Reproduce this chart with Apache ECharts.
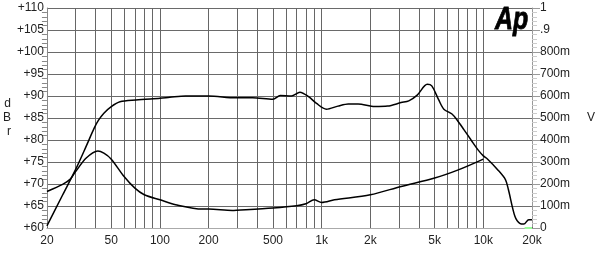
<!DOCTYPE html>
<html><head><meta charset="utf-8">
<script src="https://cdn.jsdelivr.net/npm/echarts@6/dist/echarts.min.js"></script>
<style>html,body{margin:0;padding:0;background:#fff}#c{width:600px;height:254px}</style>
</head><body><div id="c"></div>
<script>
// Frequency response (dB, left axis)
const respFreq = [20, 25, 30, 35, 39.2, 41.7, 45, 50, 56.6, 71, 100, 115, 144, 200, 294, 374, 500, 555, 650, 734, 830, 930, 1070, 1260, 1460, 1680, 2130, 2560, 3100, 3460, 3900, 4500, 4800, 5300, 5700, 6400, 6900, 7600, 8400, 9300, 10000, 10600, 12300, 13700, 14300, 15700, 16900, 17800, 19100, 20000];
const respDb   = [60.5, 67.5, 73.2, 78.6, 82.7, 84.5, 86.1, 87.6, 88.7, 89.1, 89.5, 89.7, 90.0, 90.0, 89.6, 89.6, 89.25, 90.1, 90.0, 90.85, 89.85, 88.3, 87.0, 87.7, 88.2, 88.2, 87.6, 87.7, 88.5, 88.9, 90.2, 92.65, 92.3, 89.1, 87.0, 85.9, 84.5, 82.3, 80.0, 77.7, 76.4, 75.7, 73.2, 71.0, 68.7, 62.6, 61.0, 60.9, 61.9, 61.9];
// Second trace (V, right axis)
const voltFreq = [20, 25, 27.9, 30, 35, 41.3, 45, 50, 60, 70, 80, 100, 125, 183, 200, 280, 300, 500, 700, 800, 900, 1000, 1200, 2000, 3100, 5000, 7000, 10000];
const voltVal  = [0.166, 0.198, 0.222, 0.255, 0.318, 0.350, 0.340, 0.313, 0.234, 0.181, 0.151, 0.128, 0.106, 0.086, 0.086, 0.080, 0.081, 0.091, 0.101, 0.110, 0.128, 0.116, 0.128, 0.151, 0.189, 0.227, 0.264, 0.313];
// Axis ticks
const gridFreqs = [20,30,40,50,60,70,80,90,100,200,300,400,500,600,700,800,900,1000,2000,3000,4000,5000,6000,7000,8000,9000,10000,20000];
const freqLabels = [20,50,100,200,500,1000,2000,5000,10000,20000];
const dbTicks = [60,65,70,75,80,85,90,95,100,105,110];
const vTicks = [0,0.1,0.2,0.3,0.4,0.5,0.6,0.7,0.8,0.9,1];
const cursorMark = [[18000,60],[20000,60]];

const FONT = '"Liberation Sans", Arial, sans-serif';
const chart = echarts.init(document.getElementById('c'), null, {renderer:'canvas'});
function fmtF(v){ return v >= 1000 ? (v/1000) + 'k' : String(v); }
function fmtV(v){ v = Math.round(v*10)/10; if (v === 0) return '0'; if (v === 1) return '1'; if (v === 0.9) return '.9'; return Math.round(v*1000) + 'm'; }
chart.setOption({
  animation: false,
  backgroundColor: '#fff',
  grid: {left: 43, right: 68, top: 8, bottom: 26, containLabel: false},
  xAxis: {
    type: 'log', logBase: 10, min: 20, max: 20000,
    axisLine: {show: true, lineStyle: {color: '#aaa'}},
    axisTick: {show: true, inside: true, length: 1, customValues: gridFreqs, lineStyle: {color: '#666'}},
    splitLine: {show: true, lineStyle: {color: '#666', width: 1}},
    axisLabel: {customValues: freqLabels, formatter: fmtF, color: '#222', fontFamily: FONT, fontSize: 12, margin: 7}
  },
  yAxis: [{
    type: 'value', min: dbTicks[0], max: dbTicks[dbTicks.length-1], interval: 5,
    name: 'd\nB\nr', nameLocation: 'middle', nameRotate: 0, nameGap: 35,
    nameTextStyle: {color: '#222', fontFamily: FONT, fontSize: 12, lineHeight: 14},
    axisLine: {show: true, lineStyle: {color: '#888'}},
    axisTick: {show: false},
    minorTick: {show: true, splitNumber: 5, length: 5, lineStyle: {color: '#888'}},
    splitLine: {show: true, lineStyle: {color: '#6a6a6a', width: 1}},
    axisLabel: {formatter: v => '+' + v, color: '#222', fontFamily: FONT, fontSize: 12, margin: 3}
  }, {
    type: 'value', min: vTicks[0], max: vTicks[vTicks.length-1], interval: 0.1, position: 'right',
    name: 'V', nameLocation: 'middle', nameRotate: 0, nameGap: 55,
    nameTextStyle: {color: '#222', fontFamily: FONT, fontSize: 12},
    axisLine: {show: true, lineStyle: {color: '#999'}},
    axisTick: {show: true, length: 8, lineStyle: {color: '#999'}},
    minorTick: {show: true, splitNumber: 5, length: 5, lineStyle: {color: '#ccc'}},
    splitLine: {show: false},
    axisLabel: {formatter: fmtV, color: '#222', fontFamily: FONT, fontSize: 12, margin: 8}
  }],
  graphic: [{
    type: 'text', x: 495, y: 4, scaleX: 0.78, z: 10,
    style: {text: 'Ap', fill: '#000', font: 'italic 900 32px ' + FONT, stroke: '#000', lineWidth: 0.8}
  }],
  series: [{
    type: 'line', xAxisIndex: 0, yAxisIndex: 0, showSymbol: false, smooth: 0.3,
    lineStyle: {color: '#000', width: 1.5},
    data: respFreq.map((f,i) => [f, respDb[i]])
  }, {
    type: 'line', xAxisIndex: 0, yAxisIndex: 1, showSymbol: false, smooth: 0.3,
    lineStyle: {color: '#000', width: 1.5},
    data: voltFreq.map((f,i) => [f, voltVal[i]])
  }, {
    type: 'line', yAxisIndex: 0, showSymbol: false, clip: false,
    lineStyle: {color: '#9f9', width: 2},
    data: cursorMark
  }]
});
</script></body></html>
